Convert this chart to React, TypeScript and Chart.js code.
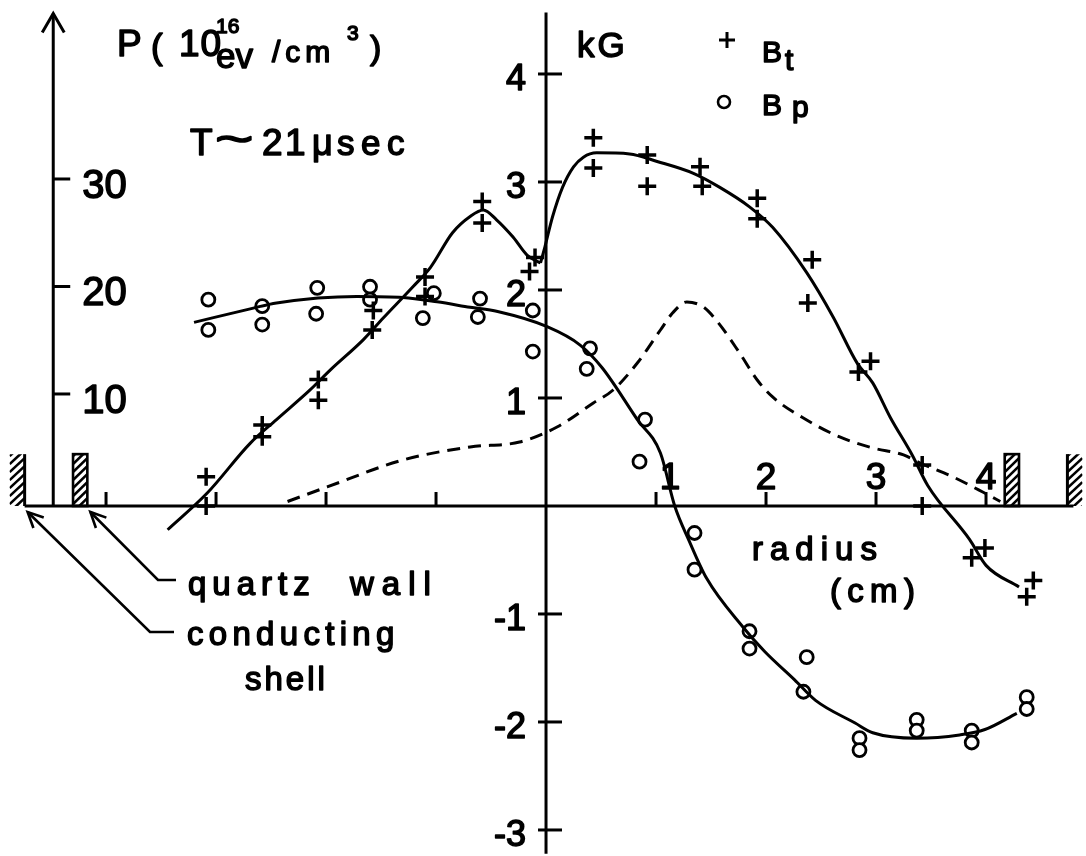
import { useEffect, useRef } from "react";
import { Chart, registerables } from "chart.js";

Chart.register(...registerables);

// Toroidal field B_t (kG) measured at radius r (cm)
const BT_R = [-3.09, -3.09, -2.58, -2.58, -2.07, -2.07, -1.58, -1.57, -1.10, -1.10, -0.58, -0.58, -0.10, -0.15,
  0.43, 0.43, 0.92, 0.92, 1.40, 1.42, 1.92, 1.92, 2.42, 2.38, 2.95, 2.84, 3.42, 3.42, 3.99, 3.87, 4.43, 4.37];
const BT_KG = [0.27, 0.0, 0.75, 0.64, 1.17, 0.98, 1.63, 1.81, 2.12, 1.94, 2.82, 2.62, 2.30, 2.17,
  3.41, 3.13, 3.25, 2.96, 3.14, 2.96, 2.85, 2.66, 2.28, 1.88, 1.34, 1.24, 0.38, 0.0, -0.39, -0.48, -0.69, -0.84];

// Poloidal field B_p (kG)
const BP_R = [-3.07, -3.07, -2.58, -2.58, -2.08, -2.09, -1.60, -1.60, -1.02, -1.12, -0.60, -0.62, -0.12, -0.12,
  0.40, 0.37, 0.90, 0.85, 1.35, 1.35, 1.85, 1.85, 2.37, 2.34, 2.85, 2.85, 3.37, 3.37, 3.87, 3.87, 4.37, 4.37];
const BP_KG = [1.91, 1.63, 1.85, 1.68, 2.02, 1.78, 2.03, 1.91, 1.97, 1.74, 1.92, 1.75, 1.81, 1.43,
  1.46, 1.27, 0.80, 0.41, -0.25, -0.59, -1.16, -1.32, -1.40, -1.72, -2.15, -2.26, -1.98, -2.08, -2.08, -2.19, -1.77, -1.88];

// Smoothed B_t profile, inner branch (up to the dip on axis)
const BT_FIT_IN_R = [-3.44, -3.08, -2.69, -2.45, -2.15, -1.96, -1.66, -1.48, -1.21, -1.05, -0.85, -0.69, -0.57, -0.45, -0.30, -0.17, -0.05];
const BT_FIT_IN_KG = [-0.22, 0.12, 0.58, 0.80, 1.07, 1.26, 1.54, 1.74, 2.03, 2.21, 2.53, 2.68, 2.74, 2.65, 2.49, 2.32, 2.25];
// Smoothed B_t profile, outer branch
const BT_FIT_OUT_R = [-0.05, -0.01, 0.06, 0.15, 0.25, 0.34, 0.46, 0.76, 1.01, 1.34, 1.58, 1.85, 2.06, 2.37, 2.61, 2.83, 2.97, 3.13, 3.33, 3.47, 3.85, 4.0, 4.3];
const BT_FIT_OUT_KG = [2.25, 2.40, 2.68, 2.95, 3.14, 3.23, 3.27, 3.26, 3.19, 3.08, 2.95, 2.77, 2.58, 2.16, 1.75, 1.32, 1.14, 0.82, 0.47, 0.19, -0.31, -0.55, -0.75];

// Smoothed B_p profile
const BP_FIT_R = [-3.2, -2.67, -2.45, -1.72, -1.30, -0.99, -0.69, -0.44, 0.01, 0.31, 0.51, 0.83, 1.04, 1.17, 1.30, 1.46, 1.79, 1.99, 2.26, 2.45, 2.81, 2.97, 3.37, 3.76, 3.99, 4.28];
const BP_FIT_KG = [1.70, 1.83, 1.88, 1.94, 1.93, 1.89, 1.84, 1.80, 1.66, 1.49, 1.28, 0.80, 0.49, 0.0, -0.32, -0.67, -1.12, -1.35, -1.61, -1.80, -2.01, -2.10, -2.15, -2.12, -2.07, -1.92];

// Plasma pressure P (10^16 eV/cm^3), dashed profile
const P_R = [-2.35, -1.99, -1.30, -0.69, -0.24, 0.10, 0.43, 0.61, 0.83, 1.04, 1.15, 1.28, 1.43, 1.56, 1.76, 1.92, 2.06, 2.37, 2.67, 2.97, 3.25, 3.40, 3.70, 3.97, 4.13];
const P_VAL = [0.0, 1.35, 3.86, 5.07, 5.53, 6.93, 9.16, 10.37, 12.88, 15.95, 17.53, 18.56, 18.09, 16.70, 13.81, 11.30, 9.72, 7.58, 6.0, 4.98, 4.33, 3.58, 2.28, 0.88, 0.0];

// Axis ticks
const KG_TICKS = [4, 3, 2, 1, -1, -2, -3];
const P_TICKS = [10, 20, 30];
const R_TICKS = [-4, -3, -2, -1, 1, 2, 3, 4];
const R_LABELS = [1, 2, 3, 4];

// Vessel geometry (cm)
const SHELL_R = 4.74;
const QUARTZ_IN = 4.17;
const QUARTZ_OUT = 4.30;
const WALL_TOP = 0.48; // drawn height in kG units
const P_AXIS_R = -4.48;

const FONT = '"Liberation Sans", Arial, sans-serif';

const pts = (xs: number[], ys: number[]) => xs.map((x, i) => ({ x, y: ys[i] }));

function arrowHead(ctx: CanvasRenderingContext2D, fx: number, fy: number, tx: number, ty: number, len: number) {
  const a = Math.atan2(ty - fy, tx - fx);
  const s = Math.PI / 7;
  ctx.beginPath();
  ctx.moveTo(tx - len * Math.cos(a - s), ty - len * Math.sin(a - s));
  ctx.lineTo(tx, ty);
  ctx.lineTo(tx - len * Math.cos(a + s), ty - len * Math.sin(a + s));
  ctx.stroke();
}

const decor = {
  id: "decor",
  beforeDatasetsDraw(chart: any) {
    const { ctx, scales } = chart;
    const px = (r: number) => scales.x.getPixelForValue(r);
    const py = (v: number) => scales.y.getPixelForValue(v);
    const pp = (p: number) => scales.yP.getPixelForValue(p);
    const y0 = py(0);
    ctx.save();
    ctx.strokeStyle = "#000";
    ctx.fillStyle = "#000";
    ctx.lineWidth = 3;
    ctx.lineCap = "butt";

    // radius axis
    ctx.beginPath();
    ctx.moveTo(px(-SHELL_R), y0);
    ctx.lineTo(px(SHELL_R) + 6, y0);
    ctx.stroke();
    for (const r of R_TICKS) {
      ctx.beginPath();
      ctx.moveTo(px(r), y0);
      ctx.lineTo(px(r), y0 - 14);
      ctx.stroke();
    }

    // kG axis through r = 0
    const xk = px(0);
    ctx.beginPath();
    ctx.moveTo(xk, py(4.57));
    ctx.lineTo(xk, py(-3.22));
    ctx.stroke();
    for (const v of KG_TICKS) {
      ctx.beginPath();
      ctx.moveTo(xk - 8, py(v));
      ctx.lineTo(xk + 16, py(v));
      ctx.stroke();
    }

    // pressure axis with arrow
    const xp = px(P_AXIS_R);
    const yTop = py(4.56);
    ctx.beginPath();
    ctx.moveTo(xp, y0);
    ctx.lineTo(xp, yTop);
    ctx.stroke();
    ctx.beginPath();
    ctx.moveTo(xp - 11, yTop + 19);
    ctx.lineTo(xp, yTop);
    ctx.lineTo(xp + 11, yTop + 19);
    ctx.stroke();
    for (const p of P_TICKS) {
      ctx.beginPath();
      ctx.moveTo(xp, pp(p));
      ctx.lineTo(xp + 17, pp(p));
      ctx.stroke();
    }

    // walls
    const yw = py(WALL_TOP);
    const hatch = (x1: number, x2: number) => {
      ctx.save();
      ctx.beginPath();
      ctx.rect(Math.min(x1, x2), yw, Math.abs(x2 - x1), y0 - yw);
      ctx.clip();
      ctx.lineWidth = 2.6;
      for (let y = yw - 20; y < y0 + 20; y += 8) {
        ctx.beginPath();
        ctx.moveTo(Math.min(x1, x2), y + 14);
        ctx.lineTo(Math.max(x1, x2), y);
        ctx.stroke();
      }
      ctx.restore();
    };
    for (const side of [-1, 1]) {
      // conducting shell
      const xs = px(side * SHELL_R);
      ctx.beginPath();
      ctx.moveTo(xs, y0);
      ctx.lineTo(xs, yw);
      ctx.stroke();
      hatch(xs, xs + side * 15);
      // quartz wall
      const xa = px(side * QUARTZ_IN);
      const xb = px(side * QUARTZ_OUT);
      ctx.lineWidth = 2.6;
      ctx.strokeRect(Math.min(xa, xb), yw, Math.abs(xb - xa), y0 - yw);
      hatch(xa, xb);
      ctx.lineWidth = 3;
    }

    // pointer arrows to the walls
    ctx.lineWidth = 2.6;
    const tipS = { x: px(-SHELL_R) + 3, y: y0 + 6 };
    const tipQ = { x: px(-QUARTZ_IN) + 3, y: y0 + 6 };
    ctx.beginPath();
    ctx.moveTo(174, 632);
    ctx.lineTo(150, 632);
    ctx.lineTo(tipS.x, tipS.y);
    ctx.stroke();
    arrowHead(ctx, 150, 632, tipS.x, tipS.y, 17);
    ctx.beginPath();
    ctx.moveTo(176, 580);
    ctx.lineTo(158, 580);
    ctx.lineTo(tipQ.x, tipQ.y);
    ctx.stroke();
    arrowHead(ctx, 158, 580, tipQ.x, tipQ.y, 17);

    // text helper: plotter-style lettering (filled and lightly stroked)
    const txt = (s: string, x: number, y: number, size: number, align: CanvasTextAlign = "left", spacing = 0, sx = 1) => {
      ctx.save();
      ctx.translate(x, y);
      ctx.scale(sx, 1);
      ctx.font = `${size}px ${FONT}`;
      ctx.textAlign = align;
      ctx.textBaseline = "alphabetic";
      (ctx as any).letterSpacing = `${spacing}px`;
      ctx.lineWidth = 1.5;
      ctx.lineJoin = "round";
      ctx.fillText(s, 0, 0);
      ctx.strokeText(s, 0, 0);
      ctx.restore();
    };

    // tick labels
    for (const v of KG_TICKS) txt(String(v), xk - 20, py(v) + 16, 36, "right");
    for (const p of P_TICKS) txt(String(p), xp + 29, pp(p) + 19, 40);
    for (const r of R_LABELS) txt(String(r), px(r) + (r === 1 ? 14 : 0), y0 - 17, 37, "center");

    // axis titles and notes
    txt("P", 117, 56, 37);
    txt("(", 151, 59, 35);
    txt("10", 179, 56, 37, "left", 1);
    txt("16", 216, 33, 21);
    txt("ev", 216, 68, 35);
    txt("/cm", 272, 62, 30, "left", 5);
    txt("3", 347, 40, 21);
    txt(")", 370, 59, 34);
    txt("kG", 577, 57, 35, "left", 3);

    txt("T", 190, 155, 37);
    txt("~", 215, 154, 44, "left", 0, 1.5);
    txt("2", 262, 155, 37);
    txt("1", 285, 155, 37);
    txt("μ", 312, 155, 36);
    txt("sec", 337, 155, 35, "left", 6.5);

    txt("radius", 752, 560, 33, "left", 7);
    txt("(cm)", 830, 602, 33, "left", 6.3);

    txt("quartz", 188, 595, 33, "left", 6);
    txt("wall", 350, 595, 33, "left", 8);
    txt("conducting", 187, 645, 33, "left", 5.3);
    txt("shell", 245, 690, 33, "left", 3);

    // legend
    txt("B", 762, 62, 30);
    txt("t", 785, 70, 30);
    txt("B", 762, 115, 30);
    txt("p", 792, 117, 30);
    ctx.lineWidth = 3;
    ctx.beginPath();
    ctx.moveTo(719, 40);
    ctx.lineTo(735, 40);
    ctx.moveTo(727, 32);
    ctx.lineTo(727, 48);
    ctx.stroke();
    ctx.lineWidth = 2.6;
    ctx.beginPath();
    ctx.arc(724, 102, 6, 0, Math.PI * 2);
    ctx.stroke();

    ctx.restore();
  },
};

export default function App() {
  const ref = useRef<HTMLCanvasElement>(null);

  useEffect(() => {
    const canvas = ref.current;
    if (!canvas) return;
    const curve = (data: { x: number; y: number }[], extra: any = {}) => ({
      type: "line" as const,
      data,
      borderColor: "#000",
      borderWidth: 3,
      pointRadius: 0,
      fill: false,
      cubicInterpolationMode: "monotone" as const,
      ...extra,
    });
    const chart = new Chart(canvas, {
      type: "scatter",
      data: {
        datasets: [
          curve(pts(BT_FIT_IN_R, BT_FIT_IN_KG)),
          curve(pts(BT_FIT_OUT_R, BT_FIT_OUT_KG)),
          curve(pts(BP_FIT_R, BP_FIT_KG)),
          curve(pts(P_R, P_VAL), { yAxisID: "yP", borderDash: [13, 8], borderWidth: 3 }),
          {
            type: "scatter" as const,
            label: "Bt",
            data: pts(BT_R, BT_KG),
            pointStyle: "cross",
            pointRadius: 9,
            pointBorderWidth: 3.5,
            borderColor: "#000",
            backgroundColor: "#000",
          },
          {
            type: "scatter" as const,
            label: "Bp",
            data: pts(BP_R, BP_KG),
            pointStyle: "circle",
            pointRadius: 6.5,
            pointBorderWidth: 2.8,
            borderColor: "#000",
            backgroundColor: "#fff",
          },
        ] as any,
      },
      options: {
        animation: false,
        responsive: false,
        devicePixelRatio: 1,
        events: [],
        layout: { padding: 0, autoPadding: false },
        plugins: { legend: { display: false }, tooltip: { enabled: false } },
        scales: {
          x: { type: "linear", min: -4.964, max: 4.909, display: false },
          y: { type: "linear", min: -3.241, max: 4.685, display: false },
          yP: { type: "linear", min: -32.98, max: 46.65, display: false },
        },
      },
      plugins: [decor],
    });
    return () => chart.destroy();
  }, []);

  return (
    <div style={{ position: "fixed", left: 0, top: 0, width: 1086, height: 856, background: "#fff" }}>
      <canvas ref={ref} width={1086} height={856} style={{ display: "block" }} />
    </div>
  );
}
